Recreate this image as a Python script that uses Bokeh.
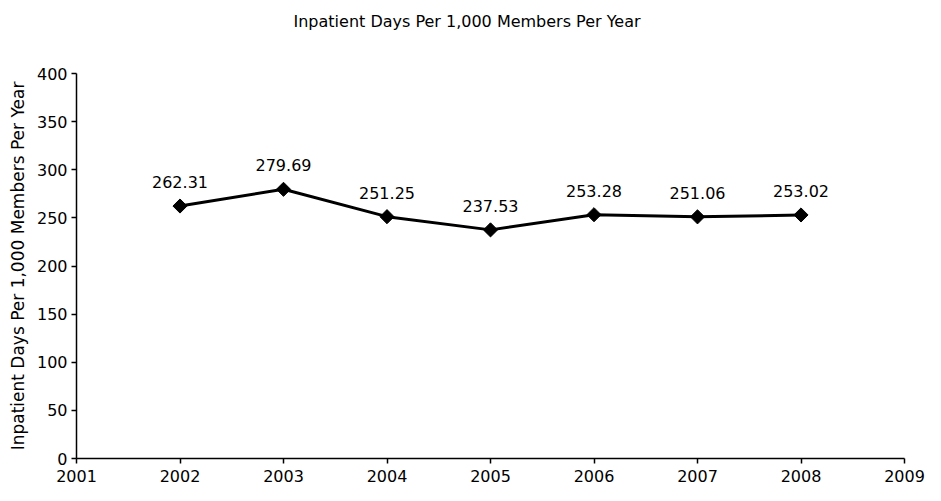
import math
from bokeh.plotting import figure
from bokeh.models import ColumnDataSource, FixedTicker, Range1d, LabelSet, Title
from bokeh.core.properties import value
from bokeh.embed import file_html
from bokeh.resources import INLINE

title_text = "Inpatient Days Per 1,000 Members Per Year"
y_title = "Inpatient Days Per 1,000 Members Per Year"
years = [2002, 2003, 2004, 2005, 2006, 2007, 2008]
values = [262.31, 279.69, 251.25, 237.53, 253.28, 251.06, 253.02]
labels = ["262.31", "279.69", "251.25", "237.53", "253.28", "251.06", "253.02"]
x_ticks = [2001, 2002, 2003, 2004, 2005, 2006, 2007, 2008, 2009]
y_ticks = [0, 50, 100, 150, 200, 250, 300, 350, 400]

src = ColumnDataSource(dict(x=years, y=values, lab=labels))

FONT = "DejaVu Sans"
W, H = 925, 485
BL, BR, BT, BB = 76, 21, 70, 27

p = figure(width=W, height=H, output_backend="svg", toolbar_location=None,
           x_range=Range1d(2001, 2009), y_range=Range1d(0, 400),
           min_border_left=BL, min_border_right=BR, min_border_top=BT, min_border_bottom=BB)
p.outline_line_color = None
p.grid.visible = False
p.background_fill_color = "white"
p.border_fill_color = "white"

# spacer (nearest the frame) then the real title above it
spacer = Title(text=" ", standoff=12, text_font=FONT, text_font_size="16px")
p.add_layout(spacer, "above")
main_title = Title(text=title_text, align="left", offset=217, standoff=19,
                   text_font=FONT, text_font_size="16px", text_font_style="normal",
                   text_color="black")
p.add_layout(main_title, "above")

p.line("x", "y", source=src, line_color="black", line_width=3)
p.scatter("x", "y", source=src, marker="square", angle=math.pi / 4, size=10, color="black")

ls = LabelSet(x="x", y="y", text="lab", source=src, text_align="center",
              text_baseline="bottom", y_offset=18, text_font=value(FONT),
              text_font_size="16px", text_color="black")
p.add_layout(ls)

for ax in (p.xaxis[0], p.yaxis[0]):
    ax.axis_line_color = "black"
    ax.axis_line_width = 1.5
    ax.major_tick_line_color = "black"
    ax.major_tick_line_width = 1.5
    ax.major_tick_out = 5
    ax.major_tick_in = 0
    ax.minor_tick_line_color = None
    ax.major_label_text_font = FONT
    ax.major_label_text_font_size = "16px"
    ax.major_label_text_color = "black"

p.xaxis.ticker = FixedTicker(ticks=x_ticks)
p.yaxis.ticker = FixedTicker(ticks=y_ticks)
p.xaxis.major_label_standoff = 6
p.yaxis.major_label_standoff = 4
p.yaxis.axis_label = y_title
p.yaxis.axis_label_text_font = FONT
p.yaxis.axis_label_text_font_size = "17px"
p.yaxis.axis_label_text_font_style = "normal"
p.yaxis.axis_label_text_color = "black"
p.yaxis.axis_label_standoff = 6

open("out.html", "w").write(file_html(p, INLINE))
